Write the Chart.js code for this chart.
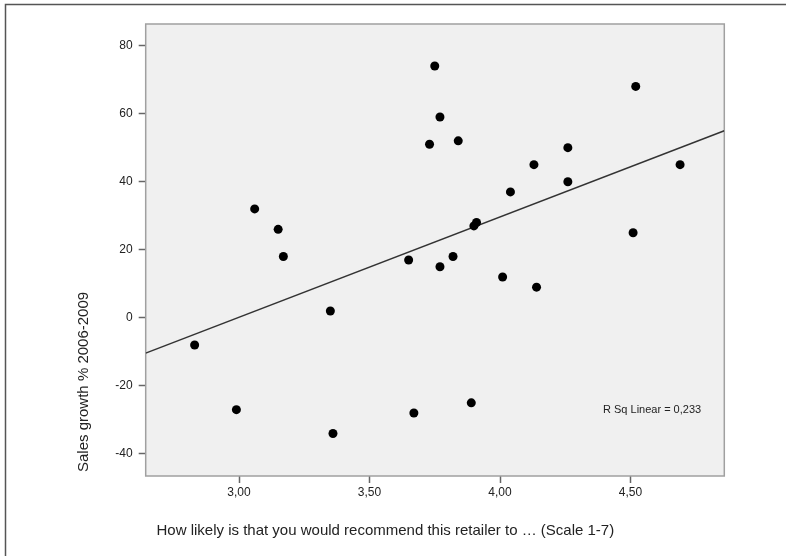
<!DOCTYPE html>
<html>
<head>
<meta charset="utf-8">
<script src="https://cdn.jsdelivr.net/npm/chart.js@4"></script>
<style>
	html, body { margin: 0; padding: 0; background: #ffffff; }
	#wrap { width: 786px; height: 556px; }
</style>
</head>
<body>
<div id="wrap"><canvas id="scatter" width="786" height="556"></canvas></div>
<script>
/* Recommendation score (x) and sales growth (y), one entry per retailer. */
const recommendScore = [2.83, 2.99, 3.06, 3.15, 3.17, 3.35, 3.36, 3.65, 3.67, 3.73, 3.75, 3.77, 3.77, 3.82, 3.84, 3.89, 3.90, 3.91, 4.01, 4.04, 4.13, 4.14, 4.26, 4.26, 4.51, 4.52, 4.69];
const salesGrowth = [-8, -27, 32, 26, 18, 2, -34, 17, -28, 51, 74, 59, 15, 18, 52, -25, 27, 28, 12, 37, 45, 9, 50, 40, 25, 68, 45];

/* Axis ticks. */
const xTickValues = [3.0, 3.5, 4.0, 4.5];
const xTickLabels = ["3,00", "3,50", "4,00", "4,50"];
const yTickValues = [-40, -20, 0, 20, 40, 60, 80];
const yTickLabels = ["-40", "-20", "0", "20", "40", "60", "80"];
const xRange = [2.6425, 4.8594];
const yRange = [-46.5, 86.35];

const xTitle = "How likely is that you would recommend this retailer to \u2026 (Scale 1-7)";
const yTitle = "Sales growth % 2006-2009";

const FONT = "'Liberation Sans', Arial, sans-serif";

/* Least squares fit, as drawn by the stats package. */
const n = recommendScore.length;
const mx = recommendScore.reduce((a, b) => a + b, 0) / n;
const my = salesGrowth.reduce((a, b) => a + b, 0) / n;
let sxy = 0, sxx = 0, syy = 0;
for (let i = 0; i < n; i++)
{
	sxy += (recommendScore[i] - mx) * (salesGrowth[i] - my);
	sxx += (recommendScore[i] - mx) ** 2;
	syy += (salesGrowth[i] - my) ** 2;
}
const slope = sxy / sxx;
const intercept = my - slope * mx;
const rSquared = (sxy * sxy) / (sxx * syy);

/* Background, plot frame, outer frame and texts. */
const decorations =
{
	id: "decorations",
	beforeDatasetsDraw(chart)
	{
		const ctx = chart.ctx;
		const a = chart.chartArea;
		ctx.save();
		ctx.fillStyle = "#f0f0f0";
		ctx.fillRect(a.left, a.top, a.right - a.left, a.bottom - a.top);
		ctx.strokeStyle = "#a0a0a0";
		ctx.lineWidth = 1.5;
		ctx.strokeRect(a.left, a.top, a.right - a.left, a.bottom - a.top);
		ctx.restore();
	},
	afterDraw(chart)
	{
		const ctx = chart.ctx;
		ctx.save();
		ctx.strokeStyle = "#555555";
		ctx.lineWidth = 1.5;
		ctx.strokeRect(5.5, 4.5, 900, 700);

		ctx.fillStyle = "#222222";
		ctx.font = "15px " + FONT;
		ctx.textAlign = "left";
		ctx.textBaseline = "alphabetic";
		ctx.fillText(xTitle, 156.5, 534.5);

		ctx.save();
		ctx.translate(87.5, 472);
		ctx.rotate(-Math.PI / 2);
		ctx.fillText(yTitle, 0, 0);
		ctx.restore();

		ctx.font = "11px " + FONT;
		ctx.fillText("R Sq Linear = " + rSquared.toFixed(3).replace(".", ","), 603, 413);
		ctx.restore();
	},
};

const scatterChart = new Chart(

	document.getElementById("scatter"),
	{
		type: "scatter",
		data:
		{
			datasets:
			[
				{
					label: "Retailers",
					data: recommendScore.map((x, i) => ({ x: x, y: salesGrowth[i] })),
					backgroundColor: "#000000",
					borderColor: "#000000",
					pointRadius: 4.5,
					pointBorderWidth: 0,
				},
				{
					type: "line",
					label: "Linear fit",
					data: xRange.map((x) => ({ x: x, y: intercept + slope * x })),
					borderColor: "#333333",
					borderWidth: 1.5,
					pointRadius: 0,
					fill: false,
				},
			],
		},
		options:
		{
			responsive: false,
			animation: false,
			layout:
			{
				padding: { top: 24, right: 61.7, left: 0, bottom: 0 },
			},
			plugins:
			{
				legend: { display: false },
				tooltip: { enabled: false },
			},
			scales:
			{
				x:
				{
					type: "linear",
					min: xRange[0],
					max: xRange[1],
					afterFit: (scale) => { scale.height = 80; },
					afterBuildTicks: (scale) => { scale.ticks = xTickValues.map((v) => ({ value: v })); },
					grid:
					{
						drawOnChartArea: false,
						drawTicks: true,
						tickLength: 7,
						tickWidth: 1.5,
						tickColor: "#666666",
					},
					border: { display: false },
					ticks:
					{
						padding: 2,
						color: "#222222",
						font: { family: FONT, size: 12 },
						callback: (v) => xTickLabels[xTickValues.indexOf(v)],
					},
				},
				y:
				{
					type: "linear",
					min: yRange[0],
					max: yRange[1],
					afterFit: (scale) => { scale.width = 145.7; },
					afterBuildTicks: (scale) => { scale.ticks = yTickValues.map((v) => ({ value: v })); },
					grid:
					{
						drawOnChartArea: false,
						drawTicks: true,
						tickLength: 7,
						tickWidth: 1.5,
						tickColor: "#666666",
					},
					border: { display: false },
					ticks:
					{
						padding: 6,
						color: "#222222",
						font: { family: FONT, size: 12 },
						callback: (v) => yTickLabels[yTickValues.indexOf(v)],
					},
				},
			},
		},
		plugins: [decorations],
	}
)
</script>
</body>
</html>
